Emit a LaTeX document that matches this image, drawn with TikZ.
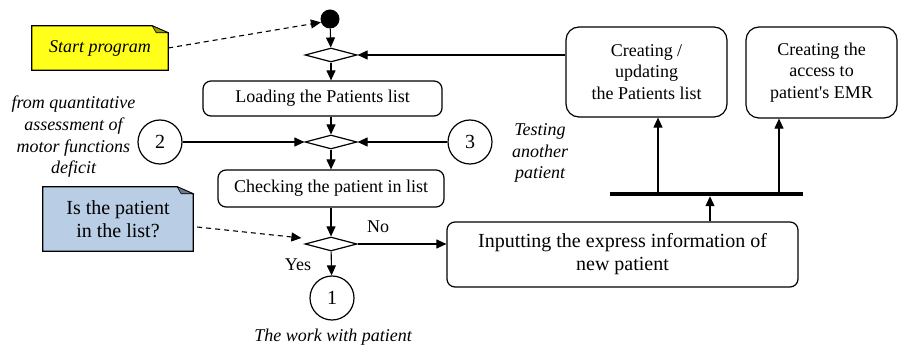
\documentclass[tikz,border=0pt]{standalone}
\usepackage{fontspec}
\setmainfont{Liberation Serif}
\usetikzlibrary{shapes.geometric,arrows.meta,calc}
\newcommand{\fsa}{\fontsize{18}{21.7}\selectfont}
\newcommand{\fsb}{\fontsize{20}{23}\selectfont}
\definecolor{noteyellow}{HTML}{FFFF1A}
\definecolor{noteblue}{HTML}{B9CDE4}
\begin{document}
\begin{tikzpicture}[x=1pt,y=-1pt,
  box/.style={draw, rounded corners=8pt, line width=1.2pt, align=center, inner sep=0pt, font=\fsa},
  bigbox/.style={box, rounded corners=13pt},
  dia/.style={draw, diamond, aspect=3.7, line width=1.2pt, minimum width=52pt, minimum height=14pt, inner sep=0pt},
  conn/.style={draw, circle, line width=1.2pt, minimum size=44pt, inner sep=0pt, font=\fsb},
  arr/.style={-{Triangle[length=10pt,width=9pt]}, line width=1.1pt},
  darr/.style={arr, dash pattern=on 5pt off 4pt},
  lab/.style={font=\fsa\itshape, align=center, inner sep=0pt},
  txt/.style={font=\fsa, inner sep=0pt},
  notetext/.style={align=center, inner sep=0pt},
  noteline/.style={line width=1.2pt},
]
\useasboundingbox (0,0) rectangle (899,347);

% main column
\node[circle, fill, minimum size=19pt, inner sep=0pt] (start) at (330,19) {};
\node[dia] (d1) at (331,55) {};
\node[box, minimum width=239pt, minimum height=35pt] (load) at (322.5,98.5) {Loading the Patients list};
\node[dia] (d2) at (331,142) {};
\node[box, minimum width=226pt, minimum height=37pt] (check) at (331,188.5) {Checking the patient in list};
\node[dia] (d3) at (331,244) {};
\node[conn] (one) at (332,298) {1};
\node[conn] (two) at (160,142) {2};
\node[conn] (three) at (470,142) {3};

% right part
\node[bigbox, minimum width=161pt, minimum height=90pt] (cu) at (646.5,72) {Creating /\\updating\\the Patients list};
\node[bigbox, minimum width=151pt, minimum height=91pt] (emr) at (821.5,72.5) {Creating the\\access to\\patient\textquotesingle s EMR};
\node[box, font=\fsb, minimum width=351pt, minimum height=65pt] (input) at (622.5,254.5) {Inputting the express information of\\new patient};
\node[fill, minimum width=193pt, minimum height=4pt, inner sep=0pt] (bar) at (706.5,194) {};
\coordinate (fx) at (710,0);
\coordinate (cx) at (658,0);
\coordinate (ex) at (779,0);

% notes
\node[notetext, font=\fsa\itshape, minimum width=136pt, minimum height=44pt] (snote) at (100,48) {};
\fill[noteyellow] (snote.south west) -- (snote.north west) -- ([xshift=-16pt]snote.north east) -- ([yshift=-7pt]snote.north east) -- (snote.south east) -- cycle;
\draw[noteline] (snote.south west) -- (snote.north west) -- ([xshift=-16pt]snote.north east) -- ([yshift=-7pt]snote.north east) -- (snote.south east) -- cycle;
\filldraw[fill=noteyellow!60!black, line width=0.6pt] ([xshift=-16pt]snote.north east) -- ([xshift=-12pt,yshift=-7pt]snote.north east) -- ([yshift=-7pt]snote.north east) -- cycle;
\node[notetext, font=\fsa\itshape] (stext) at (snote) {Start program};

\node[notetext, font=\fsb, minimum width=150pt, minimum height=64pt] (bnote) at (118,219) {};
\fill[noteblue] (bnote.south west) -- (bnote.north west) -- ([xshift=-16pt]bnote.north east) -- ([yshift=-7pt]bnote.north east) -- (bnote.south east) -- cycle;
\draw[noteline] (bnote.south west) -- (bnote.north west) -- ([xshift=-16pt]bnote.north east) -- ([yshift=-7pt]bnote.north east) -- (bnote.south east) -- cycle;
\filldraw[fill=noteblue!60!black, line width=0.6pt] ([xshift=-16pt]bnote.north east) -- ([xshift=-12pt,yshift=-7pt]bnote.north east) -- ([yshift=-7pt]bnote.north east) -- cycle;
\node[notetext, font=\fsb] (btext) at (bnote) {Is the patient\\in the list?};

% labels
\node[lab] (fromq) at (73.5,137) {from quantitative\\assessment of\\motor functions\\deficit};
\node[lab] (testing) at (540,153) {Testing\\another\\patient};
\node[lab] (work) at (333,337) {The work with patient};
\node[txt] (no) at (378,227) {No};
\node[txt] (yes) at (298,265) {Yes};

% connectors
\draw[arr] (start) -- (d1);
\draw[arr] (d1) -- (d1 |- load.north);
\draw[arr] (d1 |- load.south) -- (d2);
\draw[arr] (d2) -- (d2 |- check.north);
\draw[arr] (d3 |- check.south) -- (d3);
\draw[arr] (d3) -- (one);
\draw[arr] (two) -- (d2.west);
\draw[arr] (three) -- (d2.east);
\draw[arr] (d3.east) -- (input.west |- d3);
\draw[arr] (input.north -| fx) -- (bar.south -| fx);
\draw[arr] (bar.north -| cx) -- (cu.south -| cx);
\draw[arr] (bar.north -| ex) -- (emr.south -| ex);
\draw[arr] (cu.west |- d1) -- (d1.east);
\draw[darr] (snote.east) -- (start.200);
\draw[darr] ([xshift=4pt,yshift=-8pt]bnote.east) -- ([xshift=-3pt,yshift=6pt]d3.west);
\end{tikzpicture}
\end{document}
